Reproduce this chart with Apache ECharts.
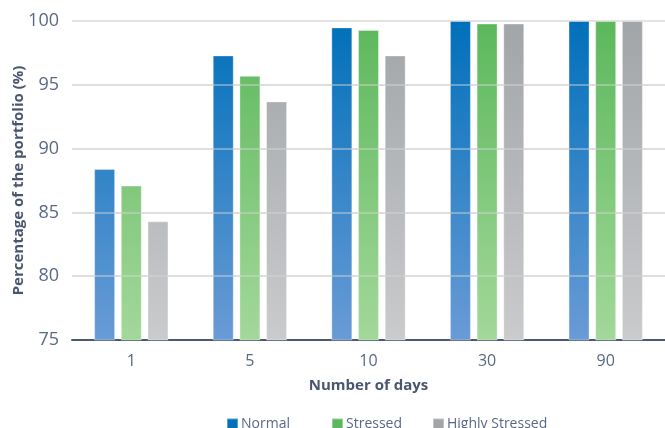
<!DOCTYPE html>
<html><head><meta charset="utf-8">
<script src="https://cdn.jsdelivr.net/npm/echarts@6/dist/echarts.min.js"></script>
<style>html,body{margin:0;padding:0;background:#fff}#c{width:665px;height:428px}</style>
</head><body><div id="c"></div>
<script>
const categories = ['1', '5', '10', '30', '90'];
const seriesNames = ['Normal', 'Stressed', 'Highly Stressed'];
const normal = [88.4, 97.3, 99.5, 100, 100];
const stressed = [87.1, 95.7, 99.3, 99.8, 100];
const highlyStressed = [84.3, 93.7, 97.3, 99.8, 100];
const gridLevels = [80, 85, 90, 95];

const chart = echarts.init(document.getElementById('c'));
const TOP = 21, BOT = 340;
function grad(c1, c2) {
  return new echarts.graphic.LinearGradient(0, TOP, 0, BOT, [{offset: 0, color: c1}, {offset: 1, color: c2}], true);
}
const font = '"Open Sans", "Noto Sans", sans-serif';
const solid = ['#0070ba', '#5cb85c', '#a2a5a8'];
function bar(name, data, c1, c2) {
  return {
    name, type: 'bar', data, barWidth: 21, barGap: '27%',
    itemStyle: {color: grad(c1, c2), borderColor: 'rgba(255,255,255,0.35)', borderWidth: 1},
    emphasis: {disabled: true}
  };
}
const series = [
  bar(seriesNames[0], normal, '#0070ba', '#6a9bd6'),
  bar(seriesNames[1], stressed, '#5cb85c', '#a3d89a'),
  bar(seriesNames[2], highlyStressed, '#a2a5a8', '#c9cbcd')
];
series[2].markLine = {
  silent: true, symbol: 'none', label: {show: false},
  lineStyle: {color: 'rgba(215,215,215,0.45)', type: 'solid', width: 2},
  data: gridLevels.map(v => ({yAxis: v}))
};
const legendLefts = [221, 326, 427];
const legend = seriesNames.map((n, i) => ({
  top: 412, left: legendLefts[i], itemWidth: 11, itemHeight: 11,
  icon: 'rect', selectedMode: false,
  textStyle: {fontFamily: font, fontSize: 14, color: '#5a6885', padding: [0, 0, 0, -2]},
  data: [{name: n, itemStyle: {color: solid[i]}}]
}));
chart.setOption({
  animation: false,
  color: solid,
  grid: {left: 72, right: 0, top: TOP, bottom: 88, containLabel: false},
  legend,
  xAxis: {
    type: 'category', data: categories,
    name: 'Number of days', nameLocation: 'middle', nameGap: 38,
    nameTextStyle: {fontFamily: font, fontSize: 15, fontWeight: 'bold', color: '#4a5670'},
    axisLine: {lineStyle: {color: '#4a5a72', width: 2}},
    axisTick: {show: false},
    axisLabel: {fontFamily: font, fontSize: 16, color: '#5a6885', margin: 13}
  },
  yAxis: {
    type: 'value', min: 75, max: 100, interval: 5,
    name: 'Percentage of the portfolio (%)', nameLocation: 'middle', nameGap: 46,
    nameMoveOverlap: false,
    nameTextStyle: {fontFamily: font, fontSize: 15, fontWeight: 'bold', color: '#4a5670'},
    axisLine: {show: false}, axisTick: {show: false},
    axisLabel: {fontFamily: font, fontSize: 18, color: '#5a6885', margin: 13},
    splitLine: {lineStyle: {color: '#e3e3e3', width: 2}}
  },
  series
});
</script></body></html>
